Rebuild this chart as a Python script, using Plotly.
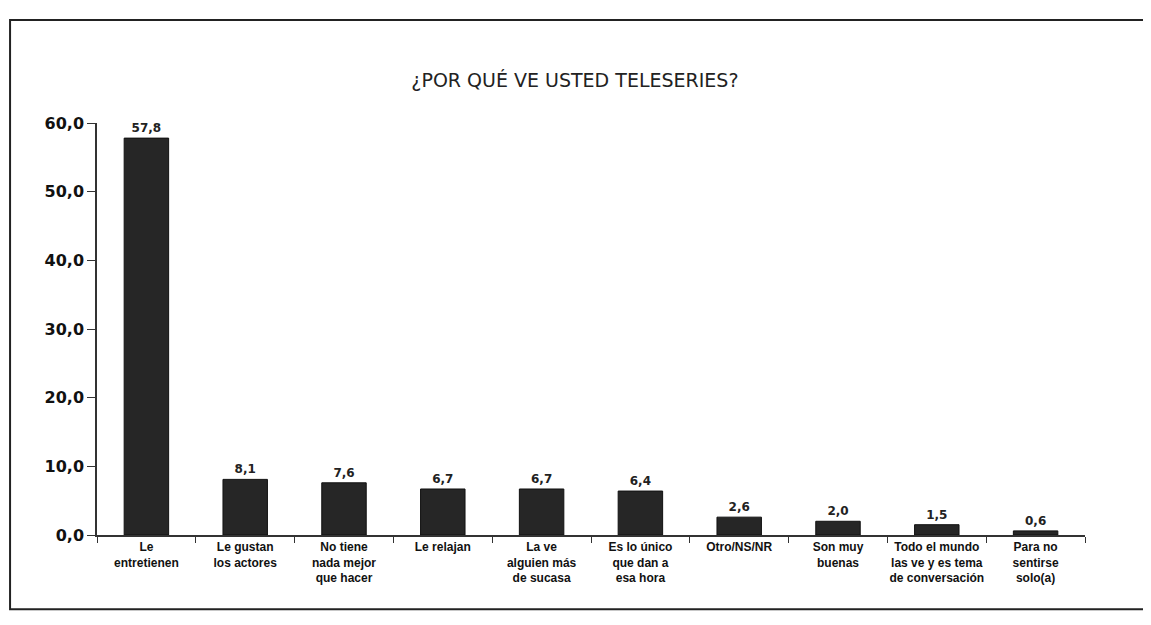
import plotly.graph_objects as go

categories = [
    "Le<br>entretienen",
    "Le gustan<br>los actores",
    "No tiene<br>nada mejor<br>que hacer",
    "Le relajan",
    "La ve<br>alguien más<br>de sucasa",
    "Es lo único<br>que dan a<br>esa hora",
    "Otro/NS/NR",
    "Son muy<br>buenas",
    "Todo el mundo<br>las ve y es tema<br>de conversación",
    "Para no<br>sentirse<br>solo(a)",
]
values = [57.8, 8.1, 7.6, 6.7, 6.7, 6.4, 2.6, 2.0, 1.5, 0.6]
y_ticks = [0, 10, 20, 30, 40, 50, 60]
y_tick_labels = ["0,0", "10,0", "20,0", "30,0", "40,0", "50,0", "60,0"]
title_text = "¿POR QUÉ VE USTED TELESERIES?"

fig = go.Figure(
    go.Bar(
        x=categories,
        y=values,
        marker=dict(color="#262626", line=dict(color="#111111", width=1)),
        text=values,
        texttemplate="%{y:.1f}",
        textposition="outside",
        textfont=dict(family="DejaVu Sans", size=12, color="#222222", weight="bold"),
        cliponaxis=False,
    )
)

fig.update_layout(
    width=1143,
    height=617,
    separators=",.",
    paper_bgcolor="white",
    plot_bgcolor="white",
    margin=dict(l=89, r=66, t=115, b=90),
    bargap=0.55,
    showlegend=False,
    title=dict(
        text=title_text,
        x=0.496,
        xanchor="center",
        y=0.883,
        yanchor="middle",
        font=dict(family="DejaVu Sans", size=19, color="#222222"),
    ),
    xaxis=dict(
        showline=True,
        linecolor="#333333",
        linewidth=1.5,
        ticks="outside",
        tickson="boundaries",
        ticklen=6,
        tickcolor="#333333",
        tickangle=0,
        tickfont=dict(family="Liberation Sans", size=12, color="#111111", weight="bold"),
        showgrid=False,
    ),
    yaxis=dict(
        range=[0, 60],
        tickvals=y_ticks,
        ticktext=y_tick_labels,
        showline=True,
        linecolor="#333333",
        linewidth=1.5,
        ticks="outside",
        ticklen=8,
        tickcolor="#333333",
        tickfont=dict(family="DejaVu Sans", size=16, color="#111111", weight="bold"),
        showgrid=False,
        zeroline=False,
    ),
    shapes=[
        dict(
            type="rect",
            xref="paper",
            yref="paper",
            x0=-0.088,
            x1=1.06,
            y0=-0.18,
            y1=1.25,
            line=dict(color="#222222", width=2),
        )
    ],
)

fig.write_html("out.html")
